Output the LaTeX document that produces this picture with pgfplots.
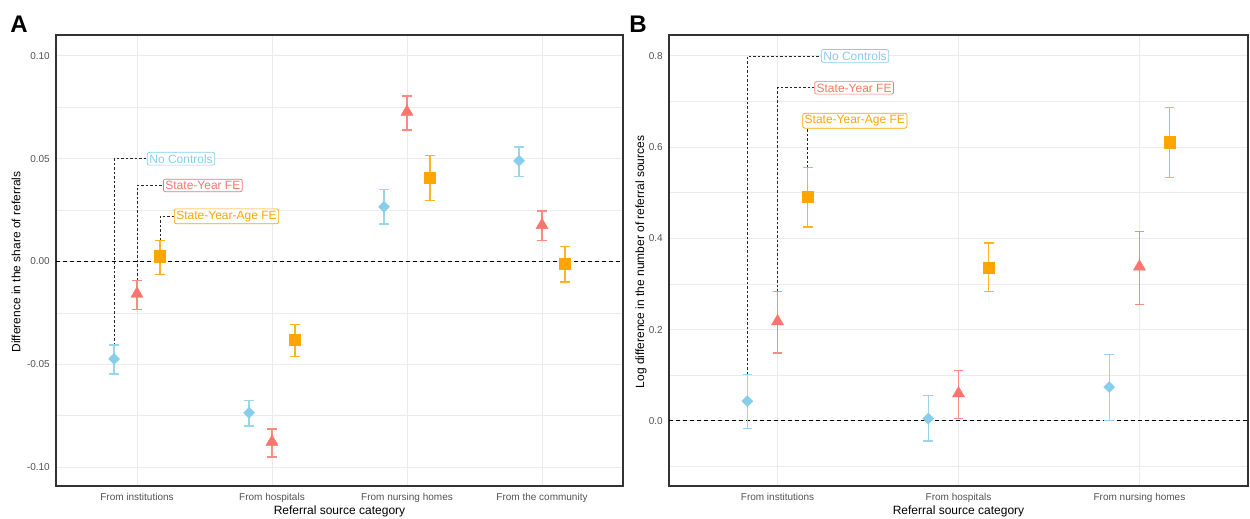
\documentclass[border=0pt]{standalone}
\usepackage{pgfplots}
\pgfplotsset{compat=1.18}
\usepackage{pgfplotstable}
\usepackage{fontspec}
\setmainfont{Liberation Sans}
\definecolor{cblue}{HTML}{87CEEB}
\definecolor{cred}{HTML}{F8766D}
\definecolor{corange}{HTML}{FFA500}
\definecolor{gridc}{HTML}{EBEBEB}

% Panel A data: category, estimate, lower, upper
\pgfplotstableread{
c y lo hi
1 -0.0474 -0.0548 -0.0407
2 -0.0736 -0.0801 -0.0676
3 0.0266 0.0182 0.0349
4 0.0490 0.0415 0.0558
}\Ablue
\pgfplotstableread{
c y lo hi
1 -0.0157 -0.0234 -0.0091
2 -0.0877 -0.0950 -0.0814
3 0.0728 0.0639 0.0806
4 0.0177 0.0101 0.0245
}\Ared
\pgfplotstableread{
c y lo hi
1 0.0026 -0.0063 0.0102
2 -0.0381 -0.0461 -0.0307
3 0.0409 0.0298 0.0517
4 -0.0010 -0.0099 0.0074
}\Aorange
% Panel B data
\pgfplotstableread{
c y lo hi
1 0.043 -0.017 0.102
2 0.005 -0.044 0.055
3 0.074 0.000 0.146
}\Bblue
\pgfplotstableread{
c y lo hi
1 0.218 0.149 0.283
2 0.060 0.005 0.110
3 0.338 0.255 0.415
}\Bred
\pgfplotstableread{
c y lo hi
1 0.491 0.425 0.555
2 0.336 0.284 0.390
3 0.611 0.533 0.687
}\Borange

\pgfplotsset{
  panel/.style={
    anchor=south west, scale only axis, height=451bp,
    axis line style={draw=black!80, line width=1.2bp},
    xmajorgrids, ymajorgrids, yminorgrids,
    major grid style={draw=gridc, line width=1bp},
    minor grid style={draw=gridc, line width=0.55bp},
    major tick length=0pt, minor tick length=0pt,
    xtick={1,2,3,4},
    tick label style={font=\fontsize{10bp}{12bp}\selectfont, text=black!68},
    yticklabel style={anchor=east, inner sep=0pt, xshift=-6bp},
    xticklabel style={anchor=north, inner sep=0pt, yshift=-7.5bp},
  },
  est/.style={only marks, color=#1, mark options={fill=#1, draw=#1},
    error bars/y dir=both, error bars/y explicit,
    error bars/error mark=-,
    error bars/error bar style={color=#1!85, line width=1.4bp, solid},
    error bars/error mark options={color=#1!85, line width=1.4bp, mark size=4.8bp, rotate=90}},
}
\tikzset{
  lab/.style={anchor=west, draw=#1, text=#1, fill=white, rounded corners=2bp,
    inner sep=2bp, line width=0.7bp, font=\fontsize{12bp}{14bp}\selectfont},
  conn/.style={black!85, line width=0.9bp, dash pattern=on 2.5bp off 2bp},
}

\begin{document}
\begin{tikzpicture}
\path[use as bounding box] (0,0) rectangle (1250bp,519bp);

% ---------------- Panel A ----------------
\begin{axis}[panel, at={(56bp,33bp)}, width=567bp,
  xmin=0.4, xmax=4.6, ymin=-0.1092, ymax=0.1102,
  xticklabels={From institutions, From hospitals, From nursing homes, From the community},
  ytick={-0.1,-0.05,0,0.05,0.1},
  yticklabels={-0.10,-0.05,0.00,0.05,0.10},
  minor ytick={-0.075,-0.025,0.025,0.075},
]
\addplot[black, line width=0.9bp, dash pattern=on 4bp off 3bp] coordinates {(0.4,0) (4.6,0)};
\addplot[conn] coordinates {(0.83,-0.0407) (0.83,0.05) (1.074,0.05)};
\addplot[conn] coordinates {(1,-0.0091) (1,0.037) (1.193,0.037)};
\addplot[conn] coordinates {(1.17,0.0102) (1.17,0.022) (1.274,0.022)};
\addplot[est=cblue, mark=square*, mark size=3.9bp, mark options={rotate=45}]
  table[x expr=\thisrow{c}-0.17, y=y,
        y error plus expr=\thisrow{hi}-\thisrow{y},
        y error minus expr=\thisrow{y}-\thisrow{lo}] {\Ablue};
\addplot[est=cred, mark=triangle*, mark size=7bp]
  table[x expr=\thisrow{c}, y=y,
        y error plus expr=\thisrow{hi}-\thisrow{y},
        y error minus expr=\thisrow{y}-\thisrow{lo}] {\Ared};
\addplot[est=corange, mark=square*, mark size=5.6bp]
  table[x expr=\thisrow{c}+0.17, y=y,
        y error plus expr=\thisrow{hi}-\thisrow{y},
        y error minus expr=\thisrow{y}-\thisrow{lo}] {\Aorange};
\node[lab=cblue] at (axis cs:1.074,0.05) {No Controls};
\node[lab=cred] at (axis cs:1.193,0.037) {State-Year FE};
\node[lab=corange] at (axis cs:1.274,0.022) {State-Year-Age FE};
\end{axis}

% ---------------- Panel B ----------------
\begin{axis}[panel, at={(669bp,33bp)}, width=579bp,
  xmin=0.4, xmax=3.6, ymin=-0.143, ymax=0.846,
  xtick={1,2,3},
  xticklabels={From institutions, From hospitals, From nursing homes},
  ytick={0,0.2,0.4,0.6,0.8},
  yticklabels={0.0,0.2,0.4,0.6,0.8},
  minor ytick={-0.1,0.1,0.3,0.5,0.7},
]
\addplot[black, line width=0.9bp, dash pattern=on 4bp off 3bp] coordinates {(0.4,0) (3.6,0)};
\addplot[conn] coordinates {(0.833,0.102) (0.833,0.8) (1.240,0.8)};
\addplot[conn] coordinates {(1,0.283) (1,0.73) (1.203,0.73)};
\addplot[conn] coordinates {(1.167,0.555) (1.167,0.642)};
\addplot[est=cblue, mark=square*, mark size=3.9bp, mark options={rotate=45}]
  table[x expr=\thisrow{c}-0.167, y=y,
        y error plus expr=\thisrow{hi}-\thisrow{y},
        y error minus expr=\thisrow{y}-\thisrow{lo}] {\Bblue};
\addplot[est=cred, mark=triangle*, mark size=7bp]
  table[x expr=\thisrow{c}, y=y,
        y error plus expr=\thisrow{hi}-\thisrow{y},
        y error minus expr=\thisrow{y}-\thisrow{lo}] {\Bred};
\addplot[est=corange, mark=square*, mark size=5.6bp]
  table[x expr=\thisrow{c}+0.167, y=y,
        y error plus expr=\thisrow{hi}-\thisrow{y},
        y error minus expr=\thisrow{y}-\thisrow{lo}] {\Borange};
\node[lab=cblue] at (axis cs:1.240,0.8) {No Controls};
\node[lab=cred] at (axis cs:1.203,0.73) {State-Year FE};
\node[lab=corange] at (axis cs:1.137,0.658) {State-Year-Age FE};
\end{axis}

% titles and panel letters
\node[font=\fontsize{24bp}{24bp}\selectfont\bfseries] at (19bp,495bp) {A};
\node[font=\fontsize{24bp}{24bp}\selectfont\bfseries] at (638bp,495bp) {B};
\node[font=\fontsize{12bp}{14bp}\selectfont] at (339.5bp,8bp) {Referral source category};
\node[font=\fontsize{12bp}{14bp}\selectfont] at (958.5bp,8bp) {Referral source category};
\node[rotate=90, font=\fontsize{12bp}{14bp}\selectfont] at (16bp,257bp) {Difference in the share of referrals};
\node[rotate=90, font=\fontsize{12bp}{14bp}\selectfont] at (641bp,257bp) {Log difference in the number of referral sources};
\end{tikzpicture}
\end{document}
